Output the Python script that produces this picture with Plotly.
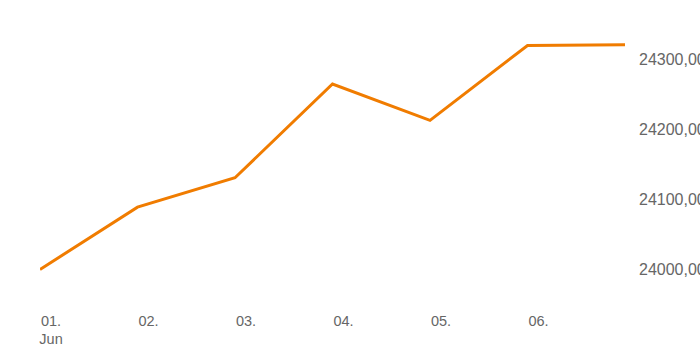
import plotly.graph_objects as go

# Daily closing values, 1–7 June
dates = ["2024-06-01", "2024-06-02", "2024-06-03", "2024-06-04",
         "2024-06-05", "2024-06-06", "2024-06-07"]
values = [24000, 24089, 24131, 24265, 24213, 24320, 24321]

# Axis tick positions and labels
x_tick_vals = ["2024-06-01", "2024-06-02", "2024-06-03",
               "2024-06-04", "2024-06-05", "2024-06-06"]
x_tick_text = ["01.<br>Jun", "02.", "03.", "04.", "05.", "06."]
y_tick_vals = [24000, 24100, 24200, 24300]
y_tick_text = ["24000,00", "24100,00", "24200,00", "24300,00"]

y_font = dict(family="Liberation Sans, Arial, sans-serif", size=16, color="#666666")
x_font = dict(family="Liberation Sans, Arial, sans-serif", size=14.5, color="#666666")

fig = go.Figure(
    go.Scatter(
        x=dates,
        y=values,
        mode="lines",
        line=dict(color="#F07C00", width=3),
        cliponaxis=False,
        hoverinfo="skip",
    )
)

fig.update_layout(
    width=700,
    height=350,
    margin=dict(l=40, r=75, t=10, b=50),
    paper_bgcolor="white",
    plot_bgcolor="white",
    showlegend=False,
    font=y_font,
    xaxis=dict(
        type="date",
        range=["2024-06-01", "2024-06-07"],
        tickmode="array",
        tickvals=x_tick_vals,
        ticktext=x_tick_text,
        showgrid=False,
        zeroline=False,
        showline=False,
        ticks="",
        tickfont=x_font,
        ticklabelshift=11,
        ticklabelstandoff=10,
        automargin=False,
    ),
    yaxis=dict(
        side="right",
        range=[23956.4, 24370.7],
        tickmode="array",
        tickvals=y_tick_vals,
        ticktext=y_tick_text,
        showgrid=False,
        zeroline=False,
        showline=False,
        ticks="",
        tickfont=y_font,
        ticklabelstandoff=13,
        automargin=False,
    ),
)

fig.write_html("out.html")
